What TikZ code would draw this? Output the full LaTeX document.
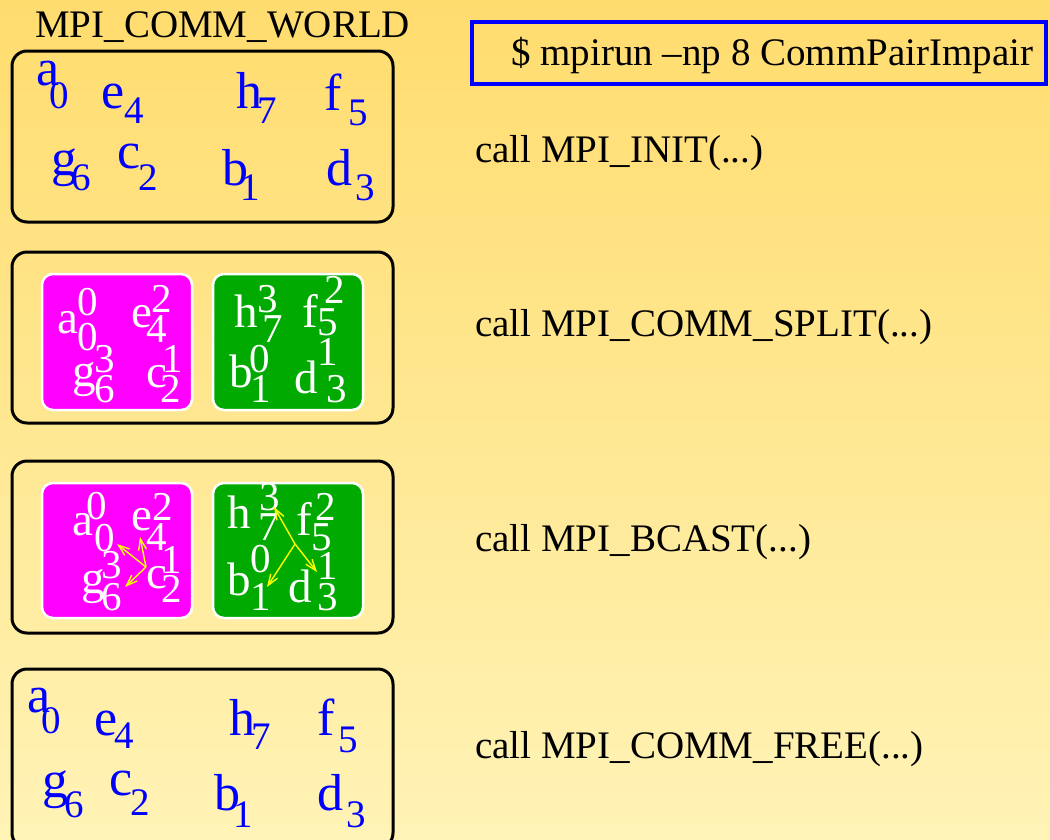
\documentclass[tikz,border=0pt]{standalone}
\usepackage{fontspec}
\setmainfont{Liberation Serif}
\usetikzlibrary{arrows.meta}
\definecolor{bgtop}{RGB}{255,220,110}
\definecolor{bgbot}{RGB}{255,243,182}
\definecolor{pinkgrp}{RGB}{255,0,255}
\definecolor{greengrp}{RGB}{0,170,0}
\definecolor{cmdblue}{RGB}{0,0,255}
\definecolor{msgyellow}{RGB}{255,255,0}
\tikzstyle{commbox} = [
    draw=black,
    line width=3pt,
    rounded corners=15pt
]
\tikzstyle{groupbox} = [
    draw=white,
    line width=2.5pt,
    rounded corners=11pt
]
\tikzstyle{calltext} = [
    anchor=base west,
    inner sep=0pt,
    font=\fontsize{39}{44}\selectfont
]
\tikzstyle{rank} = [
    anchor=base west,
    inner sep=0pt,
    text=blue,
    font=\fontsize{52}{58}\selectfont
]
\tikzstyle{ranknum} = [rank, font=\fontsize{39}{44}\selectfont]
\tikzstyle{proc} = [
    anchor=base west,
    inner sep=0pt,
    text=white,
    font=\fontsize{47}{52}\selectfont
]
\tikzstyle{procnum} = [proc, font=\fontsize{41}{46}\selectfont]
\tikzstyle{bcast} = [
    -{Straight Barb[length=11pt,width=8pt]},
    draw=msgyellow,
    line width=1.4pt
]

\begin{document}
\begin{tikzpicture}[x=1pt, y=-1pt]
        \useasboundingbox (0,0) rectangle (1050,839);
        \clip (0,0) rectangle (1050,839);
        % Background
        \shade[top color=bgtop, bottom color=bgbot] (0,0) rectangle (1050,839);

        % Command line
        \draw[cmdblue, line width=3.5pt] (472,22) rectangle (1046,84);
        \node[calltext] (cmd) at (511,65) {\$ mpirun --np 8 CommPairImpair};

        % Calls
        \node[calltext] (world) at (35,37) {MPI\_COMM\_WORLD};
        \node[calltext] (init) at (475,162) {call MPI\_INIT(...)};
        \node[calltext] (split) at (475,336) {call MPI\_COMM\_SPLIT(...)};
        \node[calltext] (bcst) at (475,551) {call MPI\_BCAST(...)};
        \node[calltext] (free) at (475,758) {call MPI\_COMM\_FREE(...)};

        % Communicator frames
        \draw[commbox] (12,51) rectangle (393,222);
        \draw[commbox] (12,252) rectangle (393,423);
        \draw[commbox] (12,461) rectangle (393,633);
        \draw[commbox] (12,669) rectangle (393,848);

        % World after init
        \foreach \n/\x/\y in {a/36/85, e/101/108, h/236/108, f/324/110,
                g/51/175, c/117/168, b/222/185, d/326/185}
            \node[rank] (w1-\n) at (\x,\y) {\n};
        \foreach \n/\k/\x/\y in {a/0/49/108, e/4/124/123, h/7/257/123, f/5/348/125,
                g/6/71/190, c/2/138/190, b/1/240/200, d/3/355/200}
            \node[ranknum] (w1-\n-sub) at (\x,\y) {\k};

        % Split into two groups
        \draw[groupbox, fill=pinkgrp] (42,274) rectangle (192,410);
        \draw[groupbox, fill=greengrp] (213,274) rectangle (363,410);
        \foreach \n/\x/\y in {a/57/333, e/131/327, g/72/386, c/146/387,
                h/234/327, f/302/327, b/229/387, d/294/393}
            \node[proc] (s-\n) at (\x,\y) {\n};
        \foreach \n/\k/\x/\y in {a/0/77/315, e/2/151/312, g/3/94/372, c/1/162/372,
                h/3/257/312, f/2/324/303, b/0/249/372, d/1/317/365}
            \node[procnum] (s-\n-sup) at (\x,\y) {\k};
        \foreach \n/\k/\x/\y in {a/0/77/350, e/4/146/342, g/6/94/402, c/2/160/402,
                h/7/262/342, f/5/317/335, b/1/250/402, d/3/326/402}
            \node[procnum] (s-\n-sub) at (\x,\y) {\k};

        % Broadcast inside each group
        \draw[groupbox, fill=pinkgrp] (42,483) rectangle (192,618);
        \draw[groupbox, fill=greengrp] (213,483) rectangle (363,618);
        \foreach \n/\x/\y in {a/72/535, e/131/530, g/81/593, c/146/588,
                h/227/528, f/296/535, b/227/595, d/288/602}
            \node[proc] (bc-\n) at (\x,\y) {\n};
        \foreach \n/\k/\x/\y in {a/0/86/519, e/2/152/520, g/3/101/578, c/1/161/573,
                h/3/259/510, f/2/315/520, b/0/250/572, d/1/317/579}
            \node[procnum] (bc-\n-sup) at (\x,\y) {\k};
        \foreach \n/\k/\x/\y in {a/0/94/551, e/4/146/550, g/6/101/610, c/2/161/602,
                h/7/258/540, f/5/311/550, b/1/250/610, d/3/317/610}
            \node[procnum] (bc-\n-sub) at (\x,\y) {\k};
        \coordinate (pk-root) at (146,567);
        \coordinate (pk-a) at (117,544);
        \coordinate (pk-e) at (140,537);
        \coordinate (pk-g) at (125,587);
        \coordinate (gr-root) at (295,544);
        \coordinate (gr-h) at (274,507);
        \coordinate (gr-d) at (317,572);
        \coordinate (gr-b) at (267,587);
        \draw[bcast] (pk-root) -- (pk-a);
        \draw[bcast] (pk-root) -- (pk-e);
        \draw[bcast] (pk-root) -- (pk-g);
        \draw[bcast] (gr-root) -- (gr-h);
        \draw[bcast] (gr-root) -- (gr-d);
        \draw[bcast] (gr-root) -- (gr-b);

        % World after free
        \foreach \n/\x/\y in {a/27/712, e/94/735, h/229/735, f/317/735,
                g/42/797, c/109/795, b/214/810, d/317/810}
            \node[rank] (w4-\n) at (\x,\y) {\n};
        \foreach \n/\k/\x/\y in {a/0/41/733, e/4/114/748, h/7/251/749, f/5/338/752,
                g/6/64/817, c/2/130/815, b/1/233/827, d/3/346/827}
            \node[ranknum] (w4-\n-sub) at (\x,\y) {\k};
    \end{tikzpicture}
\end{document}
